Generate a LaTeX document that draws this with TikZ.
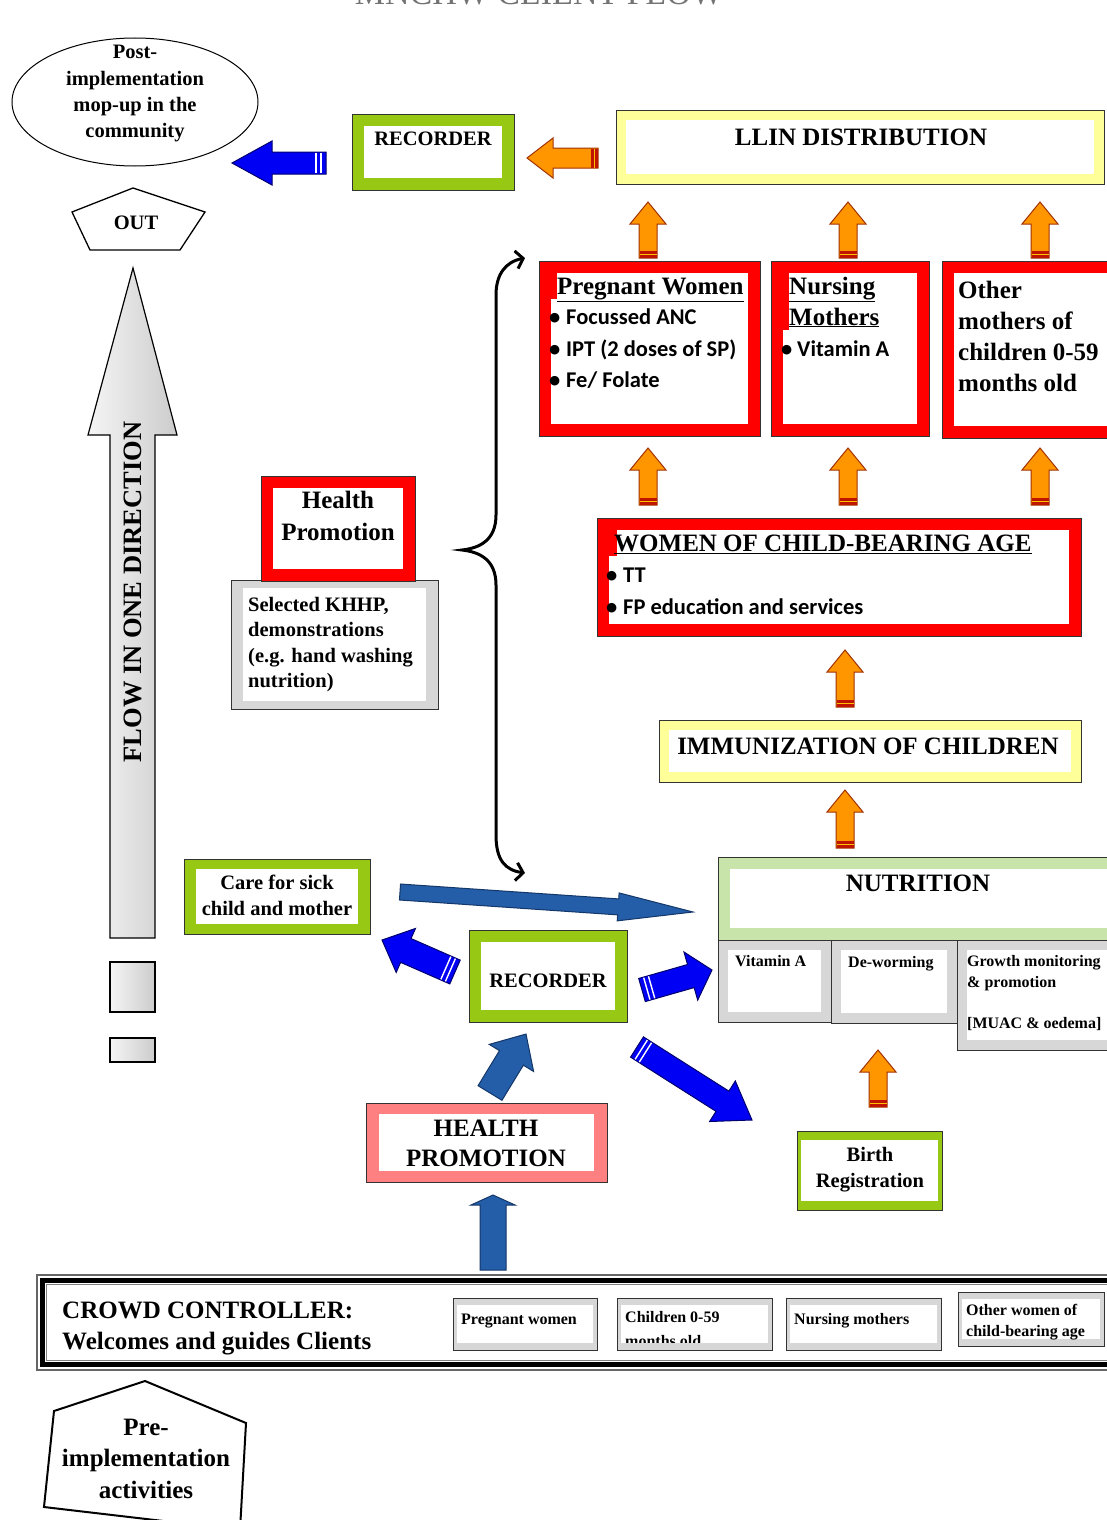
\documentclass[tikz,border=0pt]{standalone}
\usepackage{fontspec}
\setmainfont{Liberation Serif}
\newfontfamily\calib{Carlito}
\usetikzlibrary{shapes.geometric,arrows.meta}
\definecolor{grn}{RGB}{150,200,20}
\definecolor{lgrn}{RGB}{200,228,170}
\definecolor{ylw}{RGB}{255,255,153}
\definecolor{rd}{RGB}{255,0,0}
\definecolor{pnk}{RGB}{255,128,128}
\definecolor{gry}{RGB}{215,215,215}
\definecolor{org}{RGB}{255,150,0}
\definecolor{orgdk}{RGB}{160,50,0}
\definecolor{ostrc}{RGB}{190,20,0}
\definecolor{blu}{RGB}{0,0,245}
\definecolor{bludk}{RGB}{0,0,110}
\definecolor{sblu}{RGB}{36,94,168}
\definecolor{sbludk}{RGB}{20,55,105}
\makeatletter
\newcommand\blkarrow[8]{%
  \pgfmathanglebetweenpoints{\pgfpointanchor{#3}{center}}{\pgfpointanchor{#4}{center}}%
  \edef\baang{\pgfmathresult}%
  \pgfpointdiff{\pgfpointanchor{#3}{center}}{\pgfpointanchor{#4}{center}}%
  \edef\badx{\the\pgf@x}\edef\bady{\the\pgf@y}%
  \pgfmathveclen{\badx}{\bady}%
  \edef\bal{\pgfmathresult}%
  \def\baw{#5}%
  \begin{scope}[shift={(#3)},rotate=\baang]
    \filldraw[fill=#1,draw=#2,line width=1pt,line join=miter]
      (0pt,-#5pt) -- ({\bal pt-#7pt},-#5pt) -- ({\bal pt-#7pt},-#6pt) -- (\bal pt,0pt)
      -- ({\bal pt-#7pt},#6pt) -- ({\bal pt-#7pt},#5pt) -- (0pt,#5pt) -- cycle;
    #8
  \end{scope}}
\makeatother
\newcommand\bstripes{\draw[white,line width=1.4pt] (5pt,{-\baw pt+0.6pt}) -- (5pt,{\baw pt-0.6pt}) (10pt,{-\baw pt+0.6pt}) -- (10pt,{\baw pt-0.6pt});}
\newcommand\ostripes{\fill[ostrc] (0.5pt,{-\baw pt+0.5pt}) rectangle (7pt,{\baw pt-0.5pt}); \draw[org!60!yellow,line width=1pt] (4pt,{-\baw pt+0.5pt}) -- (4pt,{\baw pt-0.5pt});}
\tikzset{bx/.style n args={3}{draw=black!80,line width=0.9pt,fill=#1,inner sep=0pt,outer sep=0pt,
  path picture={\fill[white] ([xshift=#2pt,yshift=-#3pt]path picture bounding box.north west) rectangle ([xshift=-#2pt,yshift=#3pt]path picture bounding box.south east);}}}
\newcommand\bxat[8]{\node[bx={#6}{#7}{#8},minimum width={(#4-#2)*1pt},minimum height={(#5-#3)*1pt}] (#1) at ({(#2+#4)/2},{(#3+#5)/2}) {};}
\begin{document}
\begin{tikzpicture}[x=1pt,y=-1pt,
  t25/.style={font=\fontsize{25}{30}\selectfont\bfseries,inner sep=0pt,anchor=base},
  t25w/.style={t25,anchor=base west},
  t21/.style={font=\fontsize{20.5}{25}\selectfont\bfseries,inner sep=0pt,anchor=base},
  t21w/.style={t21,anchor=base west},
  t16w/.style={font=\fontsize{16}{19}\selectfont\bfseries,inner sep=0pt,anchor=base west},
  cb/.style={font=\calib\bfseries\fontsize{22.5}{27}\selectfont,inner sep=0pt,anchor=base west},
  bracestyle/.style={line width=3pt,{Straight Barb[length=7pt,width=18pt]}-{Straight Barb[length=7pt,width=18pt]}},
]
\useasboundingbox (0,0) rectangle (1106,1520);
\fill[white] (0,0) rectangle (1106,1520);
% title (cut by the top edge)
\node[font=\fontsize{34}{40}\selectfont,text=black!55,inner sep=0pt,anchor=base] (title) at (539,5) {MNCHW CLIENT FLOW};
% ellipse
\node[ellipse,draw,line width=1pt,minimum width=246pt,minimum height=128pt,inner sep=0pt] (post) at (135,102) {};
\node[t21] (e1) at (135,59) {Post-};
\node[t21] (e2) at (135,85) {implementation};
\node[t21] (e3) at (135,111) {mop-up in the};
\node[t21] (e4) at (135,137) {community};
% OUT pentagon
\draw[line width=1.3pt,line join=miter] (133,188) -- (205,212) -- (180,250) -- (90,250) -- (72,212) -- cycle;
\node[t21] (outt) at (136,229) {OUT};
% boxes
\bxat{recT}{352}{114}{514}{190}{grn}{12}{12}
\bxat{llin}{616}{110}{1104}{184}{ylw}{10}{10}
\bxat{pw}{539}{261}{760}{436}{rd}{12}{12}
\bxat{nm}{771}{261}{929}{436}{rd}{12}{12}
\bxat{om}{942}{261}{1120}{438}{rd}{12}{12}
\bxat{wcba}{597}{518}{1081}{636}{rd}{12}{12}
\bxat{imm}{659}{720}{1081}{782}{ylw}{10}{10}
\bxat{nut}{718}{857}{1120}{940}{lgrn}{12}{12}
\bxat{va}{718}{940}{831}{1022}{gry}{10}{10}
\bxat{dw}{831}{940}{957}{1023}{gry}{10}{10}
\bxat{gm}{957}{940}{1120}{1050}{gry}{10}{10}
\bxat{birth}{797}{1131}{942}{1210}{grn}{4}{9}
\bxat{recM}{469}{930}{627}{1022}{grn}{12}{12}
\bxat{care}{184}{859}{370}{934}{grn}{12}{10}
\bxat{hpB}{366}{1103}{607}{1182}{pnk}{13}{11}
\bxat{khhp}{231}{580}{438}{709}{gry}{12}{8}
\bxat{hpR}{261}{476}{415}{581}{rd}{12}{12}
\fill[rd] (551,273) rectangle (557,299);
\fill[rd] (783,273) rectangle (789,330);
\fill[rd] (609,530) rectangle (617,556);
% texts in boxes
\node[t21] (tRecT) at (433,145) {RECORDER};
\node[t25] (tLlin) at (861,145) {LLIN DISTRIBUTION};
\node[t25w] (tPw) at (557,294) {\underline{Pregnant Women}};
\node[cb] (bPw1) at (549,324) {•}; \node[cb] (tPw1) at (566,324) {Focussed ANC};
\node[cb] (bPw2) at (549,356) {•}; \node[cb] (tPw2) at (566,356) {IPT (2 doses of SP)};
\node[cb] (bPw3) at (549,387) {•}; \node[cb] (tPw3) at (566,387) {Fe/ Folate};
\node[t25w] (tNm1) at (789,294) {\underline{Nursing}};
\node[t25w] (tNm2) at (789,325) {\underline{Mothers}};
\node[cb] (bNm1) at (781,356) {•}; \node[cb] (tNm3) at (797,356) {Vitamin A};
\node[t25w] (tOm1) at (958,298) {Other};
\node[t25w] (tOm2) at (958,329) {mothers of};
\node[t25w] (tOm3) at (958,360) {children 0-59};
\node[t25w] (tOm4) at (958,391) {months old};
\node[t25w] (tW) at (614,551) {\underline{WOMEN OF CHILD-BEARING AGE}};
\node[cb] (bW1) at (606,582) {•}; \node[cb] (tW1) at (623,582) {TT};
\node[cb] (bW2) at (606,614) {•}; \node[cb] (tW2) at (623,614) {FP education and services};
\node[t25] (tImm) at (868,754) {IMMUNIZATION OF CHILDREN};
\node[t25] (tNut) at (918,891) {NUTRITION};
\node[t16w] (tVa) at (735,966) {Vitamin A};
\node[t16w] (tDw) at (848,967) {De-worming};
\node[t16w] (tGm1) at (967,966) {Growth monitoring};
\node[t16w] (tGm2) at (967,987) {\& promotion};
\node[t16w] (tGm3) at (967,1028) {[MUAC \& oedema]};
\node[t21] (tRecM) at (548,987) {RECORDER};
\node[t21] (tB1) at (870,1161) {Birth};
\node[t21] (tB2) at (870,1187) {Registration};
\node[t21] (tC1) at (277,889) {Care for sick};
\node[t21] (tC2) at (277,915) {child and mother};
\node[t25] (tH1) at (486,1136) {HEALTH};
\node[t25] (tH2) at (486,1166) {PROMOTION};
\node[t25] (tHr1) at (338,508) {Health};
\node[t25] (tHr2) at (338,540) {Promotion};
\node[t21w] (tK1) at (248,611) {Selected KHHP,};
\node[t21w] (tK2) at (248,636) {demonstrations};
\node[t21w] (tK3) at (248,662) {(e.g. hand washing};
\node[t21w] (tK4) at (248,687) {nutrition)};
% crowd controller frame
\draw[black!60,line width=1.2pt] (37,1275) rectangle (1130,1370);
\draw[black,line width=5pt] (42.5,1280.5) rectangle (1125,1364.5);
\draw[black!50,line width=0.8pt] (46.5,1284.5) rectangle (1120,1360.5);
\node[t25w] (tCr1) at (62,1318) {CROWD CONTROLLER:};
\node[t25w] (tCr2) at (62,1349) {Welcomes and guides Clients};
\bxat{pwc}{453}{1298}{597}{1350}{gry}{4}{7}
\bxat{chc}{617}{1298}{772}{1350}{gry}{4}{7}
\bxat{nmc}{786}{1298}{941}{1350}{gry}{4}{7}
\bxat{owc}{958}{1292}{1104}{1346}{gry}{4}{7}
\node[t16w] (tPwc) at (461,1324) {Pregnant women};
\node[t16w] (tChc1) at (625,1322) {Children 0-59};
\begin{scope}
\clip (617,1298) rectangle (772,1342);
\node[t16w] (tChc2) at (625,1346) {months old};
\end{scope}
\node[t16w] (tNmc) at (794,1324) {Nursing mothers};
\node[t16w] (tOwc1) at (966,1315) {Other women of};
\node[t16w] (tOwc2) at (966,1336) {child-bearing age};
% pre-implementation pentagon
\draw[line width=2pt,line join=miter] (145,1381) -- (246,1423) -- (240,1530) -- (44,1507) -- (54,1411) -- cycle;
\node[t25] (tPre1) at (146,1435) {Pre-};
\node[t25] (tPre2) at (146,1466) {implementation};
\node[t25] (tPre3) at (146,1498) {activities};
% flow arrow
\path[draw=black,line width=1.2pt,line join=miter,left color=gray!8,right color=gray!40] (110,938) -- (110,435) -- (88,435) -- (133,268) -- (177,435) -- (155,435) -- (155,938) -- cycle;
\node[font=\fontsize{26.5}{30}\selectfont\bfseries,rotate=90,inner sep=0pt] (tFlow) at (133,592) {FLOW IN ONE DIRECTION};
\path[draw=black,line width=1.2pt,left color=gray!8,right color=gray!40] (110,962) rectangle (155,1012);
\path[draw=black,line width=1.2pt,left color=gray!8,right color=gray!40] (110,1038) rectangle (155,1062);
% brace
\draw[bracestyle] (525,258) .. controls (505,262) and (496,275) .. (496,295) -- (496,515) .. controls (496,540) and (480,548) .. (462,550) .. controls (480,552) and (496,560) .. (496,585) -- (496,835) .. controls (496,860) and (505,870) .. (525,873);
% arrow end points
\coordinate (a1s) at (326,163); \coordinate (a1e) at (232,163);
\coordinate (o0s) at (598,158); \coordinate (o0e) at (527,158);
\coordinate (o1s) at (648,258); \coordinate (o1e) at (648,202);
\coordinate (o2s) at (848,258); \coordinate (o2e) at (848,202);
\coordinate (o3s) at (1040,258); \coordinate (o3e) at (1040,202);
\coordinate (o4s) at (648,505); \coordinate (o4e) at (648,448);
\coordinate (o5s) at (848,505); \coordinate (o5e) at (848,448);
\coordinate (o6s) at (1040,505); \coordinate (o6e) at (1040,448);
\coordinate (o7s) at (845,707); \coordinate (o7e) at (845,650);
\coordinate (o8s) at (845,848); \coordinate (o8e) at (845,790);
\coordinate (o9s) at (878,1107); \coordinate (o9e) at (878,1050);
\coordinate (b1s) at (455,972); \coordinate (b1e) at (382,940);
\coordinate (b2s) at (642,990); \coordinate (b2e) at (712,970);
\coordinate (b3s) at (637,1047); \coordinate (b3e) at (752,1120);
\coordinate (s1s) at (490,1093); \coordinate (s1e) at (526,1034);
\coordinate (s2s) at (493,1270); \coordinate (s2e) at (493,1195);
\coordinate (s3s) at (400,892); \coordinate (s3e) at (693,912);
% arrows
\blkarrow{blu}{bludk}{a1s}{a1e}{11}{22}{40}{\bstripes}
\blkarrow{org}{orgdk}{o0s}{o0e}{10}{20}{26}{\ostripes}
\blkarrow{org}{orgdk}{o1s}{o1e}{9}{18}{22}{\ostripes}
\blkarrow{org}{orgdk}{o2s}{o2e}{9}{18}{22}{\ostripes}
\blkarrow{org}{orgdk}{o3s}{o3e}{9}{18}{22}{\ostripes}
\blkarrow{org}{orgdk}{o4s}{o4e}{9}{18}{22}{\ostripes}
\blkarrow{org}{orgdk}{o5s}{o5e}{9}{18}{22}{\ostripes}
\blkarrow{org}{orgdk}{o6s}{o6e}{9}{18}{22}{\ostripes}
\blkarrow{org}{orgdk}{o7s}{o7e}{9}{18}{22}{\ostripes}
\blkarrow{org}{orgdk}{o8s}{o8e}{9}{18}{22}{\ostripes}
\blkarrow{org}{orgdk}{o9s}{o9e}{9}{18}{22}{\ostripes}
\blkarrow{blu}{bludk}{b1s}{b1e}{13}{24}{26}{\bstripes}
\blkarrow{blu}{bludk}{b2s}{b2e}{12}{25}{22}{\bstripes}
\blkarrow{blu}{bludk}{b3s}{b3e}{12}{24}{35}{\bstripes}
\blkarrow{sblu}{sbludk}{s1s}{s1e}{14}{26}{28}{}
\blkarrow{sblu}{sbludk}{s2s}{s2e}{13}{22}{10}{}
\blkarrow{sblu}{sbludk}{s3s}{s3e}{8}{14}{75}{}
\end{tikzpicture}
\end{document}
